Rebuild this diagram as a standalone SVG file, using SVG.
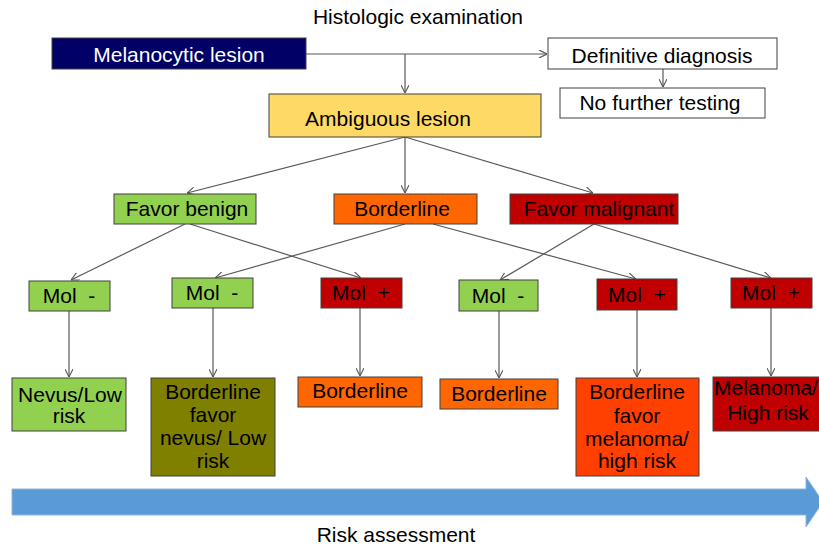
<svg xmlns="http://www.w3.org/2000/svg" width="819" height="547" viewBox="0 0 819 547">
<defs>
<style>
text{font-family:"Liberation Sans",Arial,Helvetica,sans-serif;font-size:21px;fill:#000;text-anchor:middle}
.box{stroke:#404040;stroke-width:1}
.w{fill:#fff}
.c line{stroke:#595959;stroke-width:1.2;marker-end:url(#ah)}
.c .n{marker-end:none}
</style>
<marker id="ah" viewBox="0 0 10 10" refX="10" refY="5" markerWidth="8" markerHeight="8" markerUnits="userSpaceOnUse" orient="auto">
<path d="M0,0 L10,5 L0,10" fill="none" stroke="#595959" stroke-width="1.4"/>
</marker>
</defs>
<rect width="819" height="547" fill="#fff"/>
<text x="418" y="24">Histologic examination</text>
<g class="c" id="connectors">
<line class="n" x1="306" y1="54" x2="405" y2="54"/>
<line x1="405" y1="54" x2="547" y2="54"/>
<line x1="405" y1="54" x2="405" y2="93"/>
<line x1="663" y1="69" x2="663" y2="87"/>
<line x1="405" y1="137" x2="187" y2="193"/>
<line x1="405" y1="137" x2="405" y2="193"/>
<line x1="405" y1="137" x2="593" y2="193"/>
<line x1="185" y1="224" x2="71" y2="280"/>
<line x1="190" y1="224" x2="361" y2="278"/>
<line x1="405" y1="224" x2="215" y2="278"/>
<line x1="433" y1="224" x2="636" y2="279"/>
<line x1="594" y1="224" x2="500" y2="280"/>
<line x1="594" y1="224" x2="771" y2="278"/>
<line x1="69" y1="311" x2="69" y2="377"/>
<line x1="213" y1="308" x2="213" y2="377"/>
<line x1="360" y1="308" x2="360" y2="376"/>
<line x1="499" y1="311" x2="499" y2="378"/>
<line x1="637" y1="310" x2="637" y2="377"/>
<line x1="771" y1="308" x2="771" y2="376"/>
</g>
<g id="melanocytic"><rect class="box" x="52" y="38" width="254" height="31" fill="#000066"/><text x="179" y="62" style="fill:#fff">Melanocytic lesion</text></g>
<g id="definitive"><rect class="box w" x="548" y="38" width="229" height="31"/><text x="662" y="63">Definitive diagnosis</text></g>
<g id="nofurther"><rect class="box w" x="560" y="88" width="205" height="30"/><text x="660" y="110">No further testing</text></g>
<g id="ambiguous"><rect class="box" x="269" y="94" width="272" height="43" fill="#FFD966"/><text x="388" y="126">Ambiguous lesion</text></g>
<g id="favorbenign"><rect class="box" x="114" y="194" width="142" height="30" fill="#92D050"/><text x="187" y="216">Favor benign</text></g>
<g id="borderline"><rect class="box" x="334" y="194" width="143" height="30" fill="#FF6600"/><text x="402" y="216">Borderline</text></g>
<g id="favormalignant"><rect class="box" x="510" y="194" width="168" height="30" fill="#C00000"/><text x="599" y="216">Favor malignant</text></g>
<g id="mol1"><rect class="box" x="29" y="281" width="81" height="30" fill="#92D050"/><text x="69" y="303" xml:space="preserve">Mol  -</text></g>
<g id="mol2"><rect class="box" x="172" y="278" width="81" height="30" fill="#92D050"/><text x="212" y="300" xml:space="preserve">Mol  -</text></g>
<g id="mol3"><rect class="box" x="321" y="278" width="81" height="30" fill="#C00000"/><text x="361" y="300" xml:space="preserve">Mol  +</text></g>
<g id="mol4"><rect class="box" x="459" y="280" width="79" height="31" fill="#92D050"/><text x="498" y="303" xml:space="preserve">Mol  -</text></g>
<g id="mol5"><rect class="box" x="597" y="279" width="80" height="31" fill="#C00000"/><text x="637" y="302" xml:space="preserve">Mol  +</text></g>
<g id="mol6"><rect class="box" x="731" y="278" width="81" height="30" fill="#C00000"/><text x="771" y="300" xml:space="preserve">Mol  +</text></g>
<g id="nevus"><rect class="box" x="12" y="378" width="114" height="53" fill="#92D050"/><text x="70" y="402">Nevus/Low</text><text x="69" y="423">risk</text></g>
<g id="bfnevus"><rect class="box" x="151" y="378" width="124" height="98" fill="#7F7F00"/><text x="213" y="399">Borderline</text><text x="213" y="422">favor</text><text x="213" y="445">nevus/ Low</text><text x="213" y="468">risk</text></g>
<g id="borderline3"><rect class="box" x="298" y="377" width="124" height="30" fill="#FF6600"/><text x="360" y="398">Borderline</text></g>
<g id="borderline4"><rect class="box" x="440" y="379" width="118" height="30" fill="#FF6600"/><text x="499" y="401">Borderline</text></g>
<g id="bfmelanoma"><rect class="box" x="576" y="378" width="123" height="98" fill="#FF4000"/><text x="637" y="399">Borderline</text><text x="637" y="423">favor</text><text x="637" y="446">melanoma/</text><text x="637" y="468">high risk</text></g>
<g id="melanoma"><rect class="box" x="713" y="377" width="110" height="54" fill="#C00000"/><text x="766" y="395">Melanoma/</text><text x="768" y="420">High risk</text></g>
<g id="riskarrow"><path d="M12,489 L806,489 L806,477 L823,502 L806,527 L806,515 L12,515 Z" fill="#5B9BD5" stroke="#8DB4E0" stroke-width="1"/></g>
<text x="396" y="542">Risk assessment</text>
</svg>
